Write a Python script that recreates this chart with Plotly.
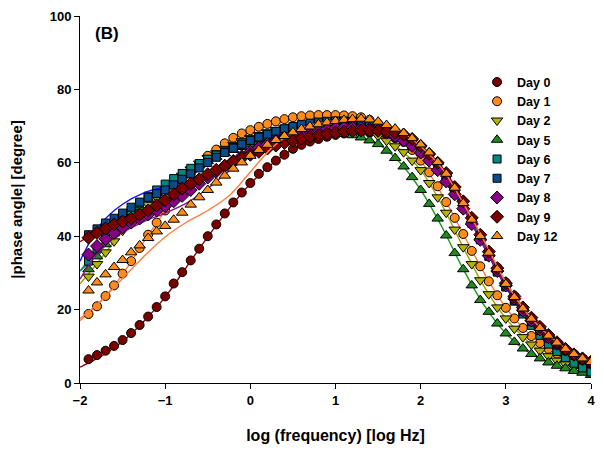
import plotly.graph_objects as go

# marker grid (log frequency)
log_freq = [-1.9, -1.8, -1.7, -1.6, -1.5, -1.4, -1.3, -1.2, -1.1, -1.0,
            -0.9, -0.8, -0.7, -0.6, -0.5, -0.4, -0.3, -0.2, -0.1, 0.0,
            0.1, 0.2, 0.3, 0.4, 0.5, 0.6, 0.7, 0.8, 0.9, 1.0,
            1.1, 1.2, 1.3, 1.4, 1.5, 1.6, 1.7, 1.8, 1.9, 2.0,
            2.1, 2.2, 2.3, 2.4, 2.5, 2.6, 2.7, 2.8, 2.9, 3.0,
            3.1, 3.2, 3.3, 3.4, 3.5, 3.6, 3.7, 3.8, 3.9, 4.0]

day0 = [6.5, 7.6, 8.8, 10.1, 11.7, 13.6, 15.8, 18.1, 20.7, 23.6, 27.1, 30.2, 33.4, 36.6, 40.0, 43.2, 46.2, 49.2, 51.9, 54.5,
        57.0, 58.8, 60.6, 62.2, 63.8, 64.9, 65.8, 66.5, 67.1, 67.6,
        68.0, 68.2, 68.3, 68.2, 67.9, 67.4, 66.7, 65.7, 64.4, 62.8,
        60.8, 58.4, 55.6, 52.3, 48.6, 44.5, 40.2, 35.8, 31.5, 27.4,
        23.7, 20.4, 17.5, 15.0, 12.8, 10.9, 9.3, 7.9, 6.7, 5.7]
day1 = [18.8, 20.9, 23.7, 26.6, 29.8, 33.2, 36.8, 40.4, 43.7, 47.0, 50.8, 54.0, 57.0, 59.5, 61.9, 63.6, 65.3, 66.8, 68.0, 68.9,
        69.8, 70.6, 71.3, 71.9, 72.4, 72.7, 72.9, 73.0, 73.0, 73.0,
        72.9, 72.7, 72.4, 71.7, 70.6, 69.4, 67.9, 66.0, 63.5, 60.6,
        57.4, 53.6, 49.3, 45.0, 40.6, 36.0, 31.8, 27.7, 23.9, 20.5,
        17.6, 15.0, 12.8, 10.9, 9.3, 8.0, 6.9, 6.0, 5.2, 4.6]
day2 = [29.0, 32.4, 35.6, 38.6, 41.5, 44.0, 46.4, 48.6, 50.6, 52.5, 54.4, 56.5, 58.2, 59.8, 61.3, 62.6, 63.8, 64.9, 65.9, 66.8,
        67.6, 68.3, 68.9, 69.4, 69.8, 70.1, 70.3, 70.4, 70.4, 70.3,
        70.1, 69.7, 69.1, 68.3, 67.3, 66.0, 64.5, 62.9, 60.6, 58.0,
        54.5, 50.6, 46.4, 41.8, 37.0, 32.4, 28.0, 24.2, 20.6, 17.6,
        14.8, 12.5, 10.5, 8.8, 7.3, 6.1, 5.1, 4.3, 3.6, 3.0]
day5 = [31.0, 34.5, 37.8, 40.8, 43.5, 45.9, 48.0, 50.0, 51.8, 53.5, 55.1, 56.6, 58.0, 59.3, 60.5, 61.6, 62.6, 63.5, 64.3, 65.0,
        65.7, 66.3, 66.8, 67.2, 67.6, 67.9, 68.1, 68.2, 68.2, 68.1,
        67.9, 67.5, 66.9, 66.1, 65.1, 63.3, 61.3, 59.0, 56.1, 52.6,
        48.8, 44.8, 40.2, 35.4, 31.0, 26.6, 22.6, 19.4, 16.2, 13.5,
        11.2, 9.4, 7.9, 6.7, 5.6, 4.7, 4.0, 3.3, 2.8, 2.2]
day6 = [33.2, 36.5, 39.6, 42.3, 44.8, 47.0, 49.0, 50.9, 52.6, 54.2, 55.7, 57.1, 58.5, 59.8, 61.0, 62.1, 63.2, 64.2, 65.1, 66.0,
        66.8, 67.5, 68.1, 68.7, 69.2, 69.6, 69.9, 70.1, 70.2, 70.3,
        70.3, 70.2, 70.0, 69.7, 69.2, 68.5, 67.6, 66.4, 65.0, 63.3,
        61.2, 58.7, 55.7, 52.3, 48.4, 44.2, 39.8, 35.0, 30.5, 26.2,
        22.3, 18.8, 15.7, 13.0, 10.6, 8.6, 6.9, 5.4, 4.1, 3.0]
day7 = [40.4, 42.0, 43.6, 44.9, 46.3, 47.9, 49.3, 50.6, 51.6, 52.6, 54.0, 55.5, 57.0, 58.6, 60.1, 61.5, 62.8, 64.0, 65.1, 66.1,
        67.0, 67.8, 68.6, 69.3, 69.9, 70.4, 70.8, 71.1, 71.3, 71.4,
        71.4, 71.3, 71.1, 70.7, 70.1, 69.3, 68.2, 66.8, 65.1, 63.0,
        60.8, 58.2, 55.2, 51.7, 47.8, 43.5, 39.0, 34.5, 30.2, 26.2,
        22.6, 19.5, 16.7, 14.3, 12.2, 10.4, 8.8, 7.5, 6.4, 5.4]
day8 = [35.0, 37.3, 39.2, 40.9, 42.4, 43.7, 44.8, 45.9, 47.0, 48.2, 49.5, 51.0, 52.6, 54.3, 56.0, 57.6, 59.1, 60.5, 61.8, 63.0,
        64.1, 65.1, 66.0, 66.8, 67.5, 68.1, 68.6, 69.0, 69.3, 69.5,
        69.6, 69.6, 69.5, 69.2, 68.8, 68.2, 67.3, 66.1, 64.6, 62.8,
        60.6, 58.0, 54.9, 51.4, 47.5, 43.3, 39.0, 34.7, 30.5, 26.6,
        23.0, 19.8, 17.0, 14.6, 12.5, 10.7, 9.1, 7.7, 6.5, 5.5]
day9 = [39.6, 40.9, 42.1, 43.2, 44.0, 44.8, 45.9, 47.0, 48.4, 49.8, 51.4, 53.0, 54.3, 55.5, 56.9, 58.1, 59.2, 60.3, 61.3, 62.2,
        63.0, 63.9, 64.7, 65.4, 66.0, 66.6, 67.1, 67.5, 67.9, 68.2,
        68.5, 68.7, 68.8, 68.8, 68.7, 68.5, 68.2, 67.7, 66.5, 64.6,
        62.4, 60.0, 57.2, 53.4, 49.5, 45.0, 40.4, 35.8, 31.3, 27.2,
        23.6, 20.6, 17.8, 15.3, 13.1, 11.1, 9.3, 7.8, 6.7, 5.8]
day12 = [25.2, 27.4, 29.6, 31.6, 33.5, 35.6, 37.5, 39.5, 41.3, 42.8, 44.5, 46.4, 48.6, 50.6, 52.6, 54.6, 56.5, 58.4, 60.1, 61.9,
         63.5, 64.9, 66.2, 67.3, 68.3, 69.2, 69.9, 70.5, 71.0, 71.4,
         71.7, 71.9, 72.0, 71.8, 71.2, 70.3, 69.3, 68.1, 66.7, 65.0,
         62.8, 60.2, 57.0, 53.2, 49.0, 44.5, 40.0, 35.5, 31.0, 27.0,
         23.4, 20.3, 17.5, 15.0, 12.9, 11.0, 9.3, 7.9, 6.7, 5.7]

# fitted curves (coarser grid)
fit_freq = [-2.0, -1.75, -1.5, -1.25, -1.0, -0.75, -0.5, -0.25, 0.0, 0.25, 0.5, 0.75, 1.0,
            1.25, 1.5, 1.75, 2.0, 2.25, 2.5, 2.75, 3.0, 3.25, 3.5, 3.75, 4.0]
fit0 = [4.3, 7.3, 11.3, 16.8, 23.4, 31.6, 39.8, 47.5, 54.3, 59.6, 63.7, 66.2, 67.6, 68.2, 67.9, 66.2, 62.8, 57.0, 48.6, 38.0, 27.4, 19.0, 12.8, 8.6, 5.7]
fit1 = [17.0, 22.4, 29.6, 38.5, 47.0, 55.4, 61.8, 66.0, 69.0, 71.0, 72.3, 72.9, 73.0, 72.5, 70.6, 67.0, 60.6, 51.4, 40.6, 29.8, 20.5, 13.9, 9.3, 6.4, 4.6]
fit2 = [27.0, 34.0, 41.5, 47.5, 52.5, 57.3, 61.3, 64.3, 66.8, 68.6, 69.8, 70.4, 70.3, 69.4, 67.3, 63.8, 58.0, 48.5, 37.0, 26.1, 17.6, 11.6, 7.3, 4.7, 3.0]
fit5 = [30.5, 36.2, 43.5, 49.0, 53.5, 57.3, 60.5, 63.0, 65.0, 66.5, 67.6, 68.2, 68.1, 67.2, 65.1, 60.2, 52.6, 42.5, 31.0, 21.0, 13.5, 8.6, 5.6, 3.6, 2.2]
fit6 = [30.5, 38.0, 44.5, 50.0, 54.2, 57.8, 61.0, 63.7, 66.0, 67.8, 69.2, 70.0, 70.3, 70.1, 69.2, 67.0, 63.3, 57.2, 48.4, 37.5, 26.2, 17.2, 10.6, 6.1, 3.0]
fit7 = [33.2, 43.5, 48.7, 51.8, 53.5, 54.8, 56.5, 59.0, 62.5, 66.5, 69.8, 71.5, 72.0, 71.8, 70.6, 67.6, 63.0, 56.6, 47.8, 36.8, 26.2, 18.0, 12.2, 8.1, 5.4]
fit8 = [28.3, 36.5, 41.0, 44.0, 46.3, 49.0, 53.0, 57.8, 62.0, 65.5, 67.8, 69.0, 69.6, 69.6, 68.8, 66.7, 62.8, 56.5, 47.5, 36.8, 26.6, 18.4, 12.5, 8.4, 5.5]
fit9 = [38.5, 41.8, 44.2, 46.2, 49.8, 53.6, 57.1, 59.7, 62.2, 64.2, 66.0, 67.3, 68.2, 68.7, 68.7, 67.9, 64.6, 58.8, 49.5, 38.1, 27.2, 19.2, 13.1, 8.5, 5.8]
fit12 = [17.5, 22.5, 28.5, 34.5, 39.8, 43.8, 47.0, 51.0, 57.5, 64.0, 68.3, 70.5, 71.5, 71.8, 71.3, 69.0, 64.5, 58.5, 49.0, 38.5, 27.5, 19.0, 13.0, 8.8, 5.8]

series_names = ["Day 0", "Day 1", "Day 2", "Day 5", "Day 6", "Day 7", "Day 8", "Day 9", "Day 12"]
series_data = [day0, day1, day2, day5, day6, day7, day8, day9, day12]
fit_data = [fit0, fit1, fit2, fit5, fit6, fit7, fit8, fit9, fit12]
marker_symbols = ["circle", "circle", "triangle-down", "triangle-up", "square", "square", "diamond", "diamond", "triangle-up"]
marker_colors = ["#7A0000", "#FF8C1A", "#B4B400", "#1F8A1F", "#008585", "#0A4C8A", "#880088", "#7A0000", "#FF8C1A"]
marker_sizes = [9, 9, 10, 10, 8, 8, 10, 10, 10]
line_colors = ["#8B0000", "#FF7F40", "#A0A000", "#1A9A1A", "#009090", "#1010FF", "#8E108E", "#8B0000", "#FF7F40"]

fig = go.Figure()
for name, ys, fy, sym, mc, ms, lc in zip(series_names, series_data, fit_data, marker_symbols,
                                          marker_colors, marker_sizes, line_colors):
    fig.add_trace(go.Scatter(x=fit_freq, y=fy, mode="lines", showlegend=False,
                             line=dict(color=lc, width=1.4, shape="spline", smoothing=1.0),
                             hoverinfo="skip"))
    fig.add_trace(go.Scatter(x=log_freq, y=ys, mode="markers", name=name,
                             marker=dict(symbol=sym, color=mc, size=ms,
                                         line=dict(color="black", width=1))))

FAM = "Arial, Liberation Sans"
axis_font = dict(family=FAM, size=13, color="black", weight="bold")

fig.update_layout(
    width=604, height=457,
    margin=dict(l=80, r=9, t=15, b=74),
    plot_bgcolor="white", paper_bgcolor="white",
    font=dict(family=FAM, color="black"),
    xaxis=dict(range=[-2, 4], tickmode="linear", tick0=-2, dtick=1,
               showline=True, linecolor="black", linewidth=1,
               ticks="outside", ticklen=5, tickcolor="black",
               showgrid=False, zeroline=False, tickfont=axis_font,
               title=dict(text="log (frequency) [log Hz]",
                          font=dict(family=FAM, size=16, color="black", weight="bold"), standoff=23)),
    yaxis=dict(range=[0, 100], tickmode="linear", tick0=0, dtick=20,
               showline=True, linecolor="black", linewidth=1,
               ticks="outside", ticklen=5, tickcolor="black",
               showgrid=False, zeroline=False, tickfont=axis_font,
               title=dict(text="|phase angle| [degree]",
                          font=dict(family=FAM, size=15, color="black", weight="bold"), standoff=23)),
    legend=dict(x=0.777, y=0.86, xanchor="left", yanchor="top",
                bgcolor="rgba(0,0,0,0)", borderwidth=0,
                font=dict(family=FAM, size=12.5, color="black", weight="bold"),
                tracegroupgap=0),
    annotations=[dict(text="(B)", x=0.025, y=0.951, xref="paper", yref="paper",
                      xanchor="left", yanchor="middle", showarrow=False,
                      font=dict(family=FAM, size=17, color="black", weight="bold"))],
)

fig.write_html("out.html")
